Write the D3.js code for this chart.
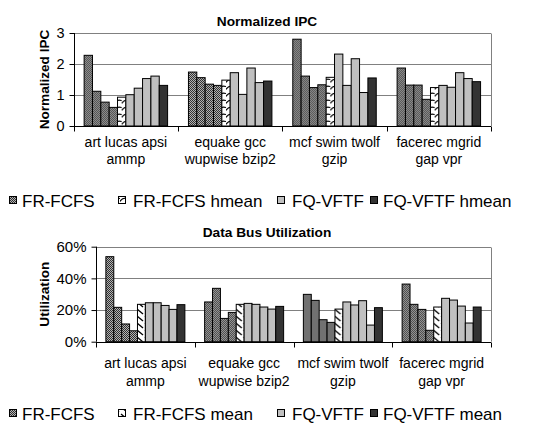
<!DOCTYPE html>
<html>
<head>
<meta charset="utf-8">
<script src="https://cdn.jsdelivr.net/npm/d3@7/dist/d3.min.js"></script>
<style>
  body { margin: 0; background: #fff; }
  svg, svg text { font-family: Arial, Helvetica, "Liberation Sans", sans-serif; }
</style>
</head>
<body>
<div id="viz"></div>
<script>
// benchmark groups, two text lines each
var groups = [
  ['art lucas apsi', 'ammp'],
  ['equake gcc', 'wupwise bzip2'],
  ['mcf swim twolf', 'gzip'],
  ['facerec mgrid', 'gap vpr']
];

// normalized IPC
var ipcFR = [[2.28, 1.12, 0.77, 0.60], [1.74, 1.56, 1.35, 1.31], [2.80, 1.61, 1.24, 1.33], [1.87, 1.32, 1.32, 0.86]];
var ipcFRmean = [0.93, 1.48, 1.57, 1.24];
var ipcFQ = [[1.01, 1.22, 1.53, 1.61], [1.72, 1.02, 1.87, 1.40], [2.32, 1.31, 2.17, 1.08], [1.31, 1.25, 1.72, 1.53]];
var ipcFQmean = [1.31, 1.45, 1.55, 1.43];
var ipcTicks = [0, 1, 2, 3];

// data bus utilization (%)
var utilFR = [[53.7, 21.7, 11.2, 6.9], [25.1, 33.7, 14.7, 18.5], [29.9, 26.1, 13.9, 12.2], [36.4, 23.6, 20.4, 7.2]];
var utilFRmean = [23.6, 23.6, 20.6, 21.9];
var utilFQ = [[24.6, 24.6, 22.9, 20.4], [24.2, 23.6, 21.9, 20.6], [25.1, 23.2, 25.9, 10.5], [27.4, 26.3, 22.5, 11.8]];
var utilFQmean = [23.4, 22.3, 21.5, 21.9];
var utilTicks = [0, 20, 40, 60];

var svg = d3.select('#viz').append('svg')
  .attr('width', 538).attr('height', 424)
  .attr('font-family', 'Arial, Helvetica, "Liberation Sans", sans-serif');

var defs = svg.append('defs');
var chk = defs.append('pattern').attr('id', 'checker')
  .attr('patternUnits', 'userSpaceOnUse').attr('width', 2).attr('height', 2);
chk.append('rect').attr('width', 2).attr('height', 2).attr('fill', '#b4b4b4');
chk.append('rect').attr('width', 1).attr('height', 1).attr('fill', '#2e2e2e');
chk.append('rect').attr('x', 1).attr('y', 1).attr('width', 1).attr('height', 1).attr('fill', '#2e2e2e');

var chev = defs.append('pattern').attr('id', 'chevron')
  .attr('patternUnits', 'userSpaceOnUse').attr('width', 8).attr('height', 7);
chev.append('rect').attr('width', 8).attr('height', 7).attr('fill', '#fff');
chev.append('path').attr('d', 'M0,5.5 Q2.5,1 8,2.5').attr('fill', 'none')
  .attr('stroke', '#000').attr('stroke-width', 1.2);

var diag = defs.append('pattern').attr('id', 'diag')
  .attr('patternUnits', 'userSpaceOnUse').attr('width', 8).attr('height', 7);
diag.append('rect').attr('width', 8).attr('height', 7).attr('fill', '#fff');
diag.append('path').attr('d', 'M1,1 L7,6').attr('fill', 'none')
  .attr('stroke', '#000').attr('stroke-width', 1.3);

function panel(cfg) {
  var x0 = d3.scaleBand().domain(d3.range(groups.length)).range([cfg.left, 491]);
  var x1 = d3.scaleBand().domain(d3.range(10)).range([0, x0.bandwidth()]).paddingOuter(1.25);
  var y = d3.scaleLinear().domain([0, cfg.max]).range([cfg.bottom, cfg.top]);
  var g = svg.append('g');

  // grid + plot border
  g.selectAll('.grid').data(cfg.ticks.slice(1)).enter().append('line')
    .attr('x1', cfg.left).attr('x2', 491)
    .attr('y1', function(d) { return Math.round(y(d)) + 0.5; })
    .attr('y2', function(d) { return Math.round(y(d)) + 0.5; })
    .attr('stroke', '#808080');
  g.append('line').attr('x1', 491.5).attr('x2', 491.5)
    .attr('y1', Math.round(y(cfg.max)) + 0.5).attr('y2', cfg.bottom)
    .attr('stroke', '#808080');

  var fills = ['url(#checker)', 'url(#checker)', 'url(#checker)', 'url(#checker)', cfg.meanFill,
    '#c0c0c0', '#c0c0c0', '#c0c0c0', '#c0c0c0', '#333333'];

  groups.forEach(function(grp, gi) {
    var vals = cfg.fr[gi].concat([cfg.frMean[gi]], cfg.fq[gi], [cfg.fqMean[gi]]);
    g.append('g').attr('transform', 'translate(' + x0(gi) + ',0)')
      .selectAll('rect').data(vals).enter().append('rect')
      .attr('x', function(d, i) { return x1(i); })
      .attr('y', function(d) { return y(d); })
      .attr('width', x1.bandwidth())
      .attr('height', function(d) { return cfg.bottom - y(d); })
      .attr('fill', function(d, i) { return fills[i]; })
      .attr('stroke', '#000').attr('stroke-width', 1);
  });

  // y axis
  var ya = g.append('g').attr('transform', 'translate(' + (Math.round(cfg.left) + 0.5) + ',0)')
    .call(d3.axisLeft(y).tickValues(cfg.ticks).tickSize(5).tickPadding(5)
      .tickFormat(cfg.fmt));
  ya.attr('font-family', null);
  ya.select('.domain').attr('d', 'M0,' + y(cfg.max) + 'V' + cfg.bottom);
  ya.selectAll('text').style('font-size', cfg.tickSize + 'px').attr('fill', '#000');

  // x axis with ticks at group boundaries
  var xa = g.append('g').attr('transform', 'translate(0,' + (Math.round(cfg.bottom) + 0.5) + ')');
  xa.append('line').attr('x1', cfg.left).attr('x2', 491).attr('stroke', '#000');
  xa.selectAll('.tk').data(d3.range(groups.length + 1)).enter().append('line')
    .attr('x1', function(i) { return Math.round(i < groups.length ? x0(i) : 491) + 0.5; })
    .attr('x2', function(i) { return Math.round(i < groups.length ? x0(i) : 491) + 0.5; })
    .attr('y1', 0).attr('y2', 5).attr('stroke', '#000');

  groups.forEach(function(grp, gi) {
    var t = g.append('text').attr('text-anchor', 'middle').style('font-size', '14px');
    grp.forEach(function(line, li) {
      t.append('tspan').attr('x', x0(gi) + x0.bandwidth() / 2)
        .attr('y', cfg.labelY + li * cfg.labelGap).text(line);
    });
  });

  // titles
  svg.append('text').attr('x', 267).attr('y', cfg.titleY).attr('text-anchor', 'middle')
    .style('font-size', '13.7px').style('font-weight', 'bold').text(cfg.title);
  svg.append('text').attr('transform', 'translate(49,' + ((cfg.top + cfg.bottom) / 2) + ') rotate(-90)')
    .attr('text-anchor', 'middle').style('font-size', '13.6px').style('font-weight', 'bold')
    .text(cfg.yTitle);

  // legend
  var items = [
    { name: 'FR-FCFS', fill: 'url(#checker)', sx: 9, tx: 22 },
    { name: cfg.meanName, fill: cfg.meanFill, sx: 118, tx: 133 },
    { name: 'FQ-VFTF', fill: '#c0c0c0', sx: 277, tx: 292 },
    { name: 'FQ-VFTF ' + cfg.meanName.split(' ')[1], fill: '#333333', sx: 370, tx: 383 }
  ];
  var lg = svg.append('g');
  lg.selectAll('rect').data(items).enter().append('rect')
    .attr('x', function(d) { return d.sx + 0.5; }).attr('y', cfg.legendY - 10.5)
    .attr('width', 7).attr('height', 7)
    .attr('fill', function(d) { return d.fill; }).attr('stroke', '#000');
  lg.selectAll('text').data(items).enter().append('text')
    .attr('x', function(d) { return d.tx; }).attr('y', cfg.legendY)
    .style('font-size', '17px').text(function(d) { return d.name; });
}

panel({
  title: 'Normalized IPC', yTitle: 'Normalized IPC', titleY: 26,
  left: 73.7, top: 33, bottom: 126, max: 3, ticks: ipcTicks,
  fmt: d3.format('d'), tickSize: 14.5,
  fr: ipcFR, frMean: ipcFRmean, fq: ipcFQ, fqMean: ipcFQmean,
  meanFill: 'url(#chevron)', meanName: 'FR-FCFS hmean',
  labelY: 147, labelGap: 17, legendY: 207
});

panel({
  title: 'Data Bus Utilization', yTitle: 'Utilization', titleY: 237,
  left: 96, top: 246.7, bottom: 341.7, max: 60, ticks: utilTicks,
  fmt: function(d) { return d + '%'; }, tickSize: 15,
  fr: utilFR, frMean: utilFRmean, fq: utilFQ, fqMean: utilFQmean,
  meanFill: 'url(#diag)', meanName: 'FR-FCFS mean',
  labelY: 368, labelGap: 18, legendY: 420
});
</script>
</body>
</html>
